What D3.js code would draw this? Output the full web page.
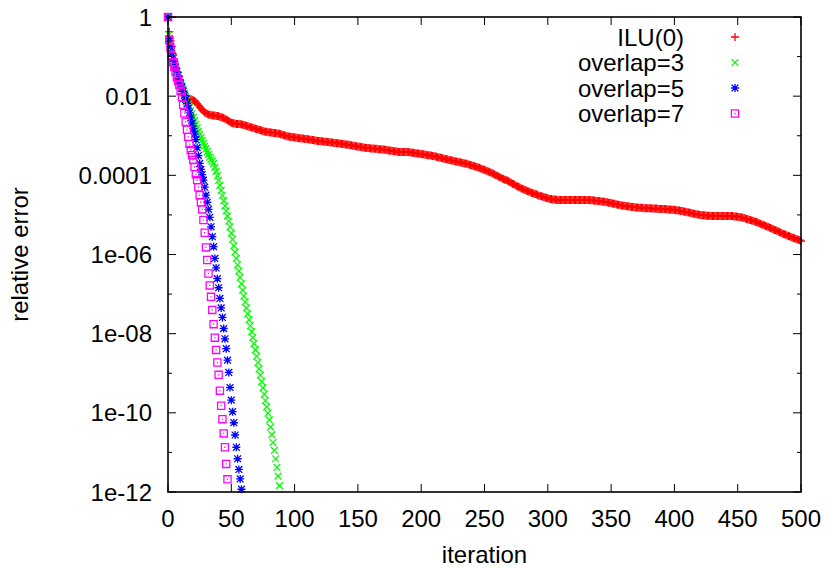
<!DOCTYPE html>
<html>
<head>
<meta charset="utf-8">
<script src="https://cdn.jsdelivr.net/npm/d3@7/dist/d3.min.js"></script>
<style>
html,body{margin:0;padding:0;background:#fff;}
svg{display:block;}
text{font-family:"Liberation Sans",Arial,Helvetica,sans-serif;fill:#000;}
</style>
</head>
<body>
<svg id="chart" width="827" height="568"></svg>
<script>
// ---- data: log10 of relative error, one value per iteration starting at 0 ----
const seriesNames = ["ILU(0)", "overlap=3", "overlap=5", "overlap=7"];
const seriesColors = ["#ff0000", "#00ff00", "#0000ff", "#ff00ff"];
const seriesMarkers = ["plus", "cross", "star", "square"];

const ilu0Log10 = [
 0,-0.37,-0.60,-0.75,-0.94,-1.12,-1.28,-1.42,-1.55,-1.67,
 -1.78,-1.88,-1.95,-2.00,-2.03,-2.05,-2.06,-2.07,-2.08,-2.09,
 -2.10,-2.12,-2.15,-2.19,-2.23,-2.27,-2.31,-2.35,-2.38,-2.41,
 -2.43,-2.45,-2.46,-2.47,-2.48,-2.48,-2.49,-2.49,-2.50,-2.50,
 -2.51,-2.52,-2.53,-2.54,-2.55,-2.57,-2.59,-2.61,-2.63,-2.65,
 -2.67,-2.68,-2.69,-2.69,-2.70,-2.70,-2.70,-2.71,-2.71,-2.72,
 -2.73,-2.74,-2.75,-2.76,-2.77,-2.78,-2.79,-2.80,-2.81,-2.82,
 -2.83,-2.84,-2.85,-2.86,-2.87,-2.88,-2.89,-2.90,-2.90,-2.91,
 -2.91,-2.92,-2.92,-2.93,-2.93,-2.93,-2.94,-2.94,-2.95,-2.96,
 -2.97,-2.98,-2.99,-3.00,-3.01,-3.02,-3.02,-3.03,-3.03,-3.04,
 -3.04,-3.05,-3.05,-3.06,-3.06,-3.06,-3.07,-3.07,-3.08,-3.08,
 -3.09,-3.09,-3.10,-3.10,-3.11,-3.11,-3.12,-3.12,-3.13,-3.13,
 -3.13,-3.14,-3.14,-3.15,-3.15,-3.15,-3.16,-3.16,-3.17,-3.17,
 -3.17,-3.18,-3.18,-3.19,-3.19,-3.19,-3.20,-3.20,-3.21,-3.21,
 -3.22,-3.22,-3.23,-3.23,-3.24,-3.24,-3.25,-3.25,-3.26,-3.27,
 -3.27,-3.28,-3.28,-3.29,-3.29,-3.30,-3.30,-3.31,-3.31,-3.31,
 -3.32,-3.32,-3.32,-3.33,-3.33,-3.33,-3.34,-3.34,-3.34,-3.35,
 -3.35,-3.35,-3.36,-3.36,-3.37,-3.37,-3.38,-3.38,-3.39,-3.39,
 -3.40,-3.40,-3.41,-3.41,-3.41,-3.41,-3.41,-3.41,-3.41,-3.41,
 -3.41,-3.42,-3.42,-3.43,-3.43,-3.44,-3.44,-3.45,-3.45,-3.46,
 -3.46,-3.47,-3.47,-3.48,-3.48,-3.49,-3.49,-3.50,-3.50,-3.51,
 -3.52,-3.52,-3.53,-3.54,-3.55,-3.55,-3.56,-3.57,-3.58,-3.59,
 -3.59,-3.60,-3.61,-3.62,-3.62,-3.63,-3.64,-3.65,-3.65,-3.66,
 -3.67,-3.67,-3.68,-3.69,-3.70,-3.70,-3.71,-3.72,-3.73,-3.74,
 -3.75,-3.76,-3.77,-3.78,-3.79,-3.80,-3.81,-3.83,-3.84,-3.85,
 -3.86,-3.88,-3.89,-3.90,-3.92,-3.93,-3.95,-3.96,-3.98,-4.00,
 -4.01,-4.03,-4.05,-4.06,-4.08,-4.09,-4.11,-4.12,-4.13,-4.15,
 -4.17,-4.19,-4.21,-4.22,-4.24,-4.26,-4.28,-4.29,-4.31,-4.33,
 -4.34,-4.36,-4.37,-4.38,-4.40,-4.41,-4.42,-4.44,-4.45,-4.46,
 -4.47,-4.48,-4.50,-4.51,-4.52,-4.53,-4.54,-4.55,-4.56,-4.57,
 -4.58,-4.59,-4.60,-4.60,-4.61,-4.61,-4.61,-4.62,-4.62,-4.62,
 -4.62,-4.62,-4.62,-4.62,-4.62,-4.62,-4.62,-4.62,-4.62,-4.62,
 -4.62,-4.62,-4.62,-4.62,-4.62,-4.62,-4.62,-4.62,-4.62,-4.62,
 -4.62,-4.62,-4.62,-4.62,-4.63,-4.63,-4.63,-4.64,-4.64,-4.65,
 -4.65,-4.65,-4.66,-4.66,-4.67,-4.67,-4.68,-4.68,-4.69,-4.69,
 -4.70,-4.71,-4.72,-4.72,-4.73,-4.74,-4.74,-4.75,-4.76,-4.76,
 -4.77,-4.77,-4.78,-4.78,-4.79,-4.79,-4.80,-4.80,-4.80,-4.81,
 -4.81,-4.81,-4.82,-4.82,-4.82,-4.82,-4.83,-4.83,-4.83,-4.83,
 -4.83,-4.83,-4.84,-4.84,-4.84,-4.84,-4.84,-4.85,-4.85,-4.85,
 -4.85,-4.85,-4.85,-4.85,-4.86,-4.86,-4.86,-4.86,-4.87,-4.87,
 -4.87,-4.88,-4.88,-4.89,-4.89,-4.90,-4.90,-4.91,-4.92,-4.92,
 -4.93,-4.94,-4.94,-4.95,-4.96,-4.97,-4.97,-4.98,-4.99,-4.99,
 -5.00,-5.00,-5.01,-5.01,-5.01,-5.02,-5.02,-5.02,-5.02,-5.03,
 -5.03,-5.03,-5.03,-5.03,-5.03,-5.03,-5.03,-5.03,-5.03,-5.03,
 -5.03,-5.03,-5.03,-5.03,-5.03,-5.03,-5.03,-5.04,-5.04,-5.04,
 -5.05,-5.05,-5.06,-5.06,-5.07,-5.08,-5.09,-5.10,-5.11,-5.12,
 -5.13,-5.14,-5.15,-5.16,-5.17,-5.18,-5.20,-5.21,-5.22,-5.24,
 -5.25,-5.26,-5.28,-5.29,-5.30,-5.32,-5.33,-5.35,-5.36,-5.38,
 -5.39,-5.40,-5.42,-5.43,-5.45,-5.46,-5.48,-5.49,-5.50,-5.52,
 -5.53,-5.54,-5.56,-5.57,-5.58,-5.59,-5.61,-5.62,-5.63,-5.64,
 -5.66
];

const overlap3Log10 = [
 0,-0.45,-0.68,-0.85,-1.00,-1.12,-1.24,-1.36,-1.46,-1.56,
 -1.65,-1.74,-1.83,-1.92,-2.01,-2.10,-2.19,-2.28,-2.37,-2.45,
 -2.53,-2.62,-2.71,-2.80,-2.89,-2.97,-3.05,-3.12,-3.19,-3.26,
 -3.33,-3.40,-3.47,-3.54,-3.60,-3.65,-3.70,-3.80,-3.90,-4.01,
 -4.13,-4.25,-4.38,-4.51,-4.64,-4.77,-4.90,-5.03,-5.16,-5.30,
 -5.46,-5.62,-5.78,-5.94,-6.10,-6.26,-6.42,-6.58,-6.74,-6.90,
 -7.05,-7.20,-7.35,-7.50,-7.65,-7.80,-7.95,-8.10,-8.25,-8.41,
 -8.57,-8.73,-8.89,-9.05,-9.21,-9.37,-9.53,-9.69,-9.85,-10.01,
 -10.18,-10.36,-10.55,-10.75,-10.95,-11.16,-11.38,-11.60,-11.84
];

const overlap5Log10 = [
 0,-0.55,-0.75,-0.92,-1.05,-1.17,-1.28,-1.38,-1.48,-1.58,
 -1.68,-1.78,-1.88,-1.98,-2.08,-2.19,-2.30,-2.42,-2.55,-2.68,
 -2.82,-2.96,-3.10,-3.30,-3.50,-3.70,-3.85,-3.98,-4.12,-4.30,
 -4.50,-4.68,-4.86,-5.06,-5.30,-5.55,-5.80,-6.10,-6.34,-6.61,
 -6.84,-7.11,-7.35,-7.59,-7.87,-8.13,-8.38,-8.67,-8.98,-9.36,
 -9.68,-9.97,-10.25,-10.56,-10.87,-11.16,-11.43,-11.67,-11.93
];

const overlap7Log10 = [
 0,-0.58,-0.78,-0.99,-1.14,-1.26,-1.39,-1.52,-1.62,-1.72,
 -1.87,-2.02,-2.22,-2.43,-2.65,-2.85,-3.03,-3.21,-3.36,-3.49,
 -3.61,-3.79,-3.97,-4.12,-4.30,-4.50,-4.68,-4.86,-5.13,-5.45,
 -5.82,-6.14,-6.48,-6.78,-7.07,-7.40,-7.76,-8.10,-8.41,-8.73,
 -9.04,-9.44,-9.82,-10.16,-10.52,-10.87,-11.29,-11.68
];

const xTickValues = [0, 50, 100, 150, 200, 250, 300, 350, 400, 450, 500];
const yTickValues = [1, 1e-2, 1e-4, 1e-6, 1e-8, 1e-10, 1e-12];
const yTickLabels = ["1", "0.01", "0.0001", "1e-06", "1e-08", "1e-10", "1e-12"];
const yMinorTickValues = [1e-1, 1e-3, 1e-5, 1e-7, 1e-9, 1e-11];
const xLabel = "iteration";
const yLabel = "relative error";

// ---- layout ----
const svg = d3.select("#chart");
const L = 168, R = 801, T = 17, B = 492;

const x = d3.scaleLinear().domain([0, 500]).range([L, R]);
const y = d3.scaleLog().domain([1e-12, 1]).range([B, T]);

const allLog = [ilu0Log10, overlap3Log10, overlap5Log10, overlap7Log10];
const series = allLog.map((arr, i) => ({
  name: seriesNames[i], color: seriesColors[i], marker: seriesMarkers[i],
  points: arr.map((e, k) => ({ it: k, val: Math.pow(10, e) }))
              .filter(p => p.val >= 1e-12 && p.val <= 1)
}));

function markerPath(type) {
  const s = 4, c = 3.4, q = 3.6;
  switch (type) {
    case "plus": return `M${-s},0H${s}M0,${-s}V${s}`;
    case "cross": return `M${-c},${-c}L${c},${c}M${-c},${c}L${c},${-c}`;
    case "star": return `M${-s},0H${s}M0,${-s}V${s}M${-c},${-c}L${c},${c}M${-c},${c}L${c},${-c}`;
    case "square": return `M${-q},${-q}H${q}V${q}H${-q}Z M-0.6,0H0.6`;
  }
}

// series
const gData = svg.append("g");
series.forEach(s => {
  gData.append("g").selectAll("path").data(s.points).join("path")
    .attr("d", markerPath(s.marker))
    .attr("transform", d => `translate(${x(d.it)},${y(d.val)})`)
    .attr("fill", "none")
    .attr("stroke", s.color)
    .attr("stroke-width", 1.3);
});

// axes with inward ticks, mirrored
const gAxes = svg.append("g").attr("stroke", "#000");
const major = 8, minor = 4;
xTickValues.forEach(v => {
  gAxes.append("line").attr("x1", x(v)).attr("x2", x(v)).attr("y1", B).attr("y2", B - major).attr("stroke-width", 1);
  gAxes.append("line").attr("x1", x(v)).attr("x2", x(v)).attr("y1", T).attr("y2", T + major).attr("stroke-width", 1);
});
yTickValues.forEach(v => {
  gAxes.append("line").attr("x1", L).attr("x2", L + major).attr("y1", y(v)).attr("y2", y(v)).attr("stroke-width", 1);
  gAxes.append("line").attr("x1", R).attr("x2", R - major).attr("y1", y(v)).attr("y2", y(v)).attr("stroke-width", 1);
});
yMinorTickValues.forEach(v => {
  gAxes.append("line").attr("x1", L).attr("x2", L + minor).attr("y1", y(v)).attr("y2", y(v)).attr("stroke-width", 1);
  gAxes.append("line").attr("x1", R).attr("x2", R - minor).attr("y1", y(v)).attr("y2", y(v)).attr("stroke-width", 1);
});
svg.append("rect").attr("x", L).attr("y", T).attr("width", R - L).attr("height", B - T)
  .attr("fill", "none").attr("stroke", "#000").attr("stroke-width", 1.6);

// tick labels
const fs = 24;
svg.append("g").selectAll("text").data(xTickValues).join("text")
  .attr("x", d => x(d)).attr("y", 527)
  .attr("text-anchor", "middle").attr("font-size", fs)
  .text(d => d);
svg.append("g").selectAll("text").data(yTickValues).join("text")
  .attr("x", 152).attr("y", d => y(d)).attr("dy", "0.36em")
  .attr("text-anchor", "end").attr("font-size", fs)
  .text((d, i) => yTickLabels[i]);

// axis titles
svg.append("text").attr("x", (L + R) / 2).attr("y", 563)
  .attr("text-anchor", "middle").attr("font-size", fs).text(xLabel);
svg.append("text").attr("transform", `translate(28,${(T + B) / 2}) rotate(-90)`)
  .attr("text-anchor", "middle").attr("font-size", fs).text(yLabel);

// legend
const legendY0 = 37, legendDY = 25.5;
series.forEach((s, i) => {
  const yy = legendY0 + i * legendDY;
  svg.append("text").attr("x", 684).attr("y", yy).attr("dy", "0.36em")
    .attr("text-anchor", "end").attr("font-size", fs).text(s.name);
  svg.append("path").attr("d", markerPath(s.marker))
    .attr("transform", `translate(735,${yy})`)
    .attr("fill", "none").attr("stroke", s.color).attr("stroke-width", 1.3);
});
</script>
</body>
</html>
